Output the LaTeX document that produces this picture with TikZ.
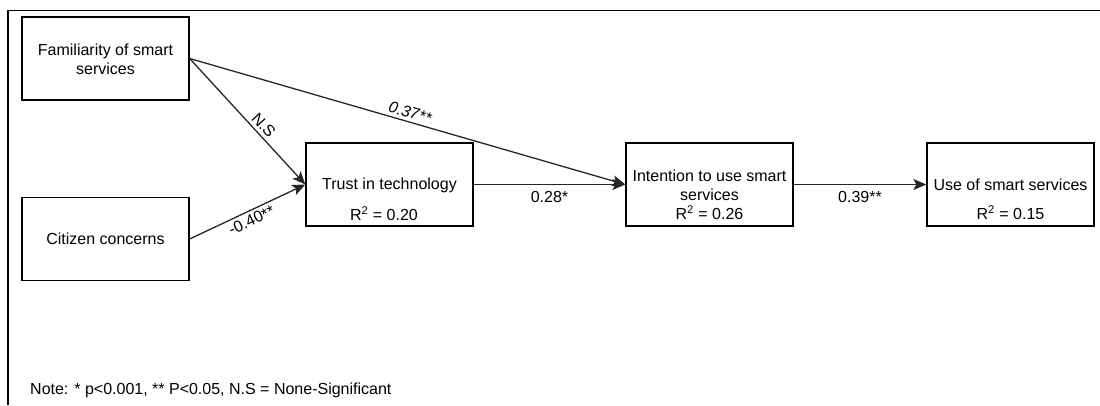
\documentclass[tikz,border=0pt]{standalone}
\usepackage{fontspec}
\setmainfont{Liberation Sans}
\usetikzlibrary{arrows.meta}
\begin{document}
\begin{tikzpicture}[x=1pt,y=-1pt,
  font=\fontsize{16}{19}\selectfont,
  box/.style={draw=black, line width=1.3pt, minimum width=167pt, minimum height=83pt, inner sep=0pt},
  txt/.style={inner sep=0pt, align=center},
  path/.style={draw=black!85, line width=1.3pt, -{Stealth[length=13pt,width=11pt,inset=3pt]}},
  lbl/.style={inner sep=3pt, font=\fontsize{16}{19}\selectfont}]
\useasboundingbox (0,0) rectangle (1100,405);
% partial frame
\draw[line width=1.5pt] (8,405) -- (8,10.5) -- (1100,10.5);

% boxes
\node[box] (fam) at (105.5,58.5) {};
\node[box] (cit) at (105.5,239) {};
\node[box] (trust) at (389.5,184.5) {};
\node[box] (int) at (709.5,184.5) {};
\node[box] (use) at (1010.5,184.5) {};

% box texts
\node[txt] (famt) at (105.5,59) {Familiarity of smart\\services};
\node[txt] (citt) at (105.5,239) {Citizen concerns};
\node[txt] (trustt) at (389.5,185) {Trust in technology};
\node[txt] (trustr) at (384,214) {R\textsuperscript{2} = 0.20};
\node[txt] (intt) at (709.5,185) {Intention to use smart\\services};
\node[txt] (intr) at (709.5,213) {R\textsuperscript{2} = 0.26};
\node[txt] (uset) at (1010.5,185) {Use of smart services};
\node[txt] (user) at (1010.5,213) {R\textsuperscript{2} = 0.15};

% paths
\draw[path] (fam.east) -- node[lbl, sloped, above, pos=0.58] {N.S} (trust.west);
\draw[path] (cit.east) -- node[lbl, sloped, below, pos=0.5] {-0.40**} (trust.west);
\draw[path] (fam.east) -- node[lbl, sloped, above, pos=0.5, font=\fontsize{16}{19}\selectfont\itshape] {0.37**} (int.west);
\draw[path] (trust.east) -- node[lbl, below=3pt] {0.28*} (int.west);
\draw[path] (int.east) -- node[lbl, below=3pt] {0.39**} (use.west);

% note
\node[txt, anchor=west] (note) at (30,390) {Note: * p<0.001, ** P<0.05, N.S = None-Significant};
\end{tikzpicture}
\end{document}
